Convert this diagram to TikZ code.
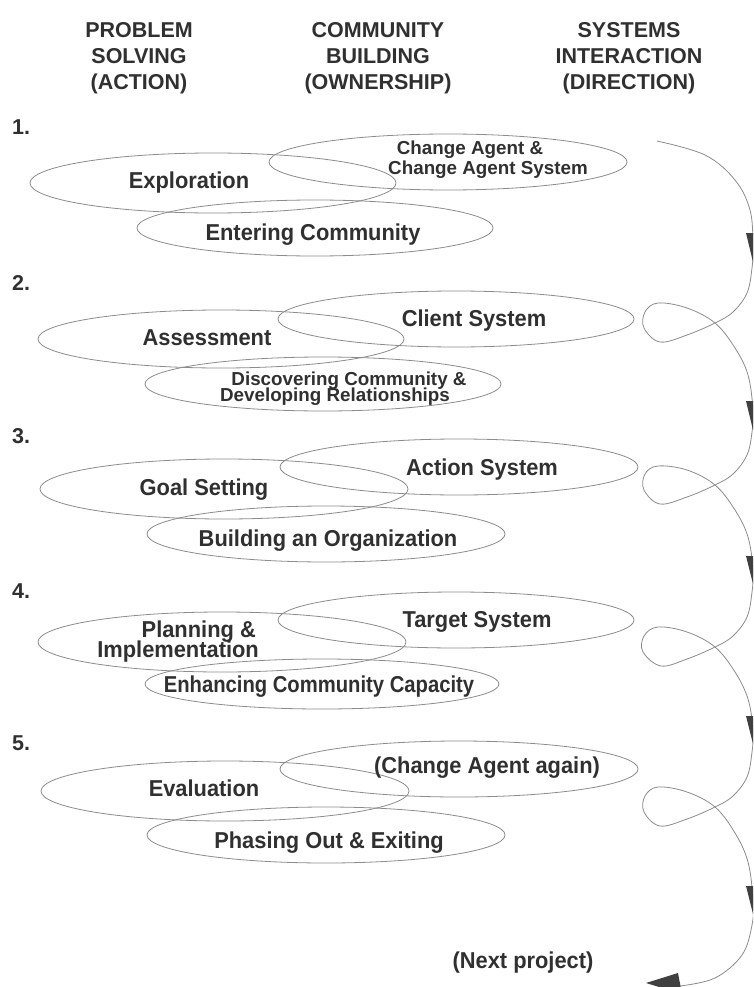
\documentclass[tikz,border=0pt]{standalone}
\usepackage{fontspec}
\setmainfont{Liberation Sans}[FakeStretch=0.95]
\newfontfamily\hdrfont{Liberation Sans}
\newfontfamily\narrowfont{Liberation Sans}[FakeStretch=0.88]
\usetikzlibrary{shapes.geometric}
\definecolor{ink}{HTML}{303030}
\definecolor{linec}{HTML}{8C8C8C}
\definecolor{arrc}{HTML}{404040}
\begin{document}
\begin{tikzpicture}[x=1pt,y=-1pt,
  oval/.style={ellipse,draw=linec,line width=0.8pt,inner sep=0pt},
  lbl/.style={anchor=base,text=ink,inner sep=0pt,font=\bfseries\fontsize{23}{26}\selectfont},
  hdr/.style={lbl,font=\hdrfont\bfseries\fontsize{21.5}{25}\selectfont},
  sml/.style={lbl,font=\hdrfont\bfseries\fontsize{18.8}{21}\selectfont},
  mid/.style={lbl,font=\narrowfont\bfseries\fontsize{23}{26}\selectfont},
  snake/.style={draw=linec,line width=0.8pt},
  head/.style={fill=arrc}]
\useasboundingbox (0,0) rectangle (753,987);
\clip (0,0) rectangle (753,987);
\fill[white] (0,0) rectangle (753,987);

% headers
\node[hdr] (h1a) at (139,38) {PROBLEM};
\node[hdr] (h1b) at (139,64) {SOLVING};
\node[hdr] (h1c) at (139,90) {(ACTION)};
\node[hdr] (h2a) at (378,38) {COMMUNITY};
\node[hdr] (h2b) at (378,64) {BUILDING};
\node[hdr] (h2c) at (378,90) {(OWNERSHIP)};
\node[hdr] (h3a) at (629,38) {SYSTEMS};
\node[hdr] (h3b) at (629,64) {INTERACTION};
\node[hdr] (h3c) at (629,90) {(DIRECTION)};

% step numbers
\node[hdr,anchor=base west] (n1) at (12,135) {1.};
\node[hdr,anchor=base west] (n2) at (12,290) {2.};
\node[hdr,anchor=base west] (n3) at (12,443) {3.};
\node[hdr,anchor=base west] (n4) at (12,598) {4.};
\node[hdr,anchor=base west] (n5) at (12,750) {5.};

% ellipses
\node[oval,minimum width=366pt,minimum height=60pt] (e1a) at (213,183) {};
\node[oval,minimum width=358pt,minimum height=56pt] (e1b) at (448,162) {};
\node[oval,minimum width=356pt,minimum height=56pt] (e1c) at (315,228) {};
\node[oval,minimum width=366pt,minimum height=58pt] (e2a) at (221,339) {};
\node[oval,minimum width=356pt,minimum height=56pt] (e2b) at (456,319) {};
\node[oval,minimum width=356pt,minimum height=54pt] (e2c) at (323,384) {};
\node[oval,minimum width=368pt,minimum height=60pt] (e3a) at (224,489) {};
\node[oval,minimum width=358pt,minimum height=56pt] (e3b) at (459,467) {};
\node[oval,minimum width=358pt,minimum height=56pt] (e3c) at (326,534) {};
\node[oval,minimum width=368pt,minimum height=60pt] (e4a) at (222,642) {};
\node[oval,minimum width=356pt,minimum height=56pt] (e4b) at (456,620) {};
\node[oval,minimum width=354pt,minimum height=50pt] (e4c) at (322,684) {};
\node[oval,minimum width=368pt,minimum height=60pt] (e5a) at (225,791) {};
\node[oval,minimum width=358pt,minimum height=56pt] (e5b) at (459,769) {};
\node[oval,minimum width=358pt,minimum height=56pt] (e5c) at (326,835) {};

% texts
\node[lbl] (t1a) at (189,189) {Exploration};
\node[sml] (t1b1) at (470,155) {Change Agent \&};
\node[sml] (t1b2) at (488,175) {Change Agent System};
\node[lbl] (t1c) at (313,240) {Entering Community};
\node[lbl] (t2a) at (207,345) {Assessment};
\node[lbl] (t2b) at (474,326) {Client System};
\node[sml] (t2c1) at (349,385) {Discovering Community \&};
\node[sml] (t2c2) at (335,401) {Developing Relationships};
\node[lbl] (t3a) at (204,495) {Goal Setting};
\node[lbl] (t3b) at (482,475) {Action System};
\node[lbl] (t3c) at (328,546) {Building an Organization};
\node[lbl,anchor=base east] (t4a1) at (256,637) {Planning \&};
\node[lbl,anchor=base east] (t4a2) at (259,657) {Implementation};
\node[lbl] (t4b) at (477,627) {Target System};
\node[mid] (t4c) at (319,692) {Enhancing Community Capacity};
\node[lbl] (t5a) at (204,796) {Evaluation};
\node[lbl] (t5b) at (487,773) {(Change Agent again)};
\node[lbl] (t5c) at (329,848) {Phasing Out \& Exiting};
\node[lbl] (tnext) at (523,968) {(Next project)};

% snake path on the right
\draw[snake] plot[smooth,tension=0.6] coordinates {
 (657,141) (705,155) (735,180) (750,210) (753,245) (752,268)
 (747,293) (733,312) (715,323) (687,335) (660,342) (644,328) (645,312) (658,303) (687,308) (715,323)
 (735,348) (748,375) (753,410) (752,432)
 (747,455) (733,474) (715,485) (687,497) (660,504) (644,490) (645,474) (658,466) (687,470) (715,485)
 (735,510) (748,537) (753,570) (752,592)
 (747,617) (733,636) (715,647) (687,659) (661,666) (643,652) (644,636) (658,627) (687,632) (715,647)
 (735,672) (748,699) (753,730) (752,752)
 (747,777) (733,796) (715,807) (687,819) (660,826) (644,812) (645,796) (658,787) (687,792) (715,807)
 (735,833) (748,862) (753,900) (752,925) (742,955) (715,978) (680,986)};

% arrow heads
\fill[head] (746,233) -- (760,233) -- (753,262) -- cycle;
\fill[head] (746,401) -- (760,401) -- (753,430) -- cycle;
\fill[head] (746,556) -- (760,556) -- (753,584) -- cycle;
\fill[head] (746,716) -- (760,716) -- (753,744) -- cycle;
\fill[head] (746,886) -- (760,886) -- (753,914) -- cycle;
\fill[head] (678,973) -- (682,994) -- (646,983) -- cycle;
\end{tikzpicture}
\end{document}
